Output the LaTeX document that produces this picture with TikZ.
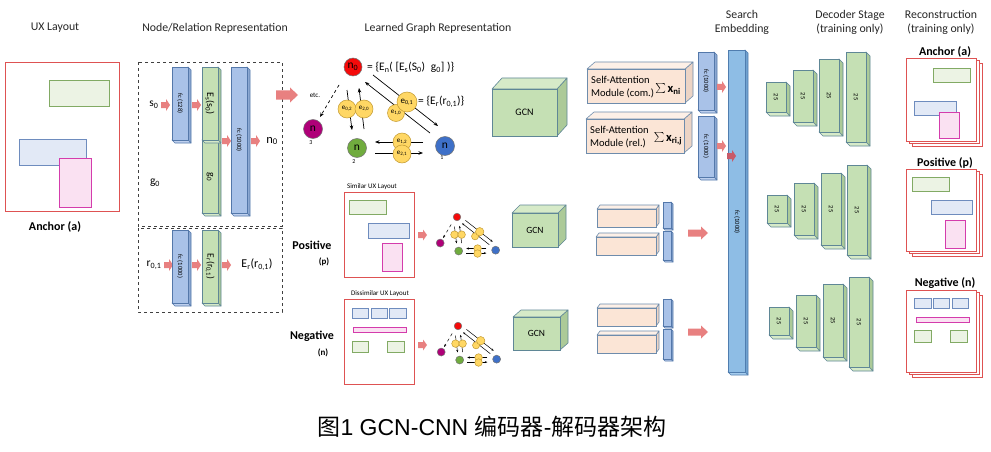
\documentclass[tikz,border=0pt]{standalone}
\usepackage{fontspec}
\setmainfont{Carlito}
\newfontfamily\cjkfont{Noto Sans CJK SC}
\newfontfamily\arialfont{Liberation Sans}
\usetikzlibrary{fit,arrows.meta}

\definecolor{blF}{RGB}{169,194,232}
\definecolor{blT}{RGB}{190,208,238}
\definecolor{blS}{RGB}{140,168,210}
\definecolor{blD}{RGB}{84,120,170}
\definecolor{seF}{RGB}{142,189,229}
\definecolor{seT}{RGB}{165,205,238}
\definecolor{seS}{RGB}{112,162,208}
\definecolor{seD}{RGB}{80,125,175}
\definecolor{grF}{RGB}{197,224,180}
\definecolor{grT}{RGB}{214,234,200}
\definecolor{grS}{RGB}{172,202,152}
\definecolor{grD}{RGB}{95,135,150}
\definecolor{peF}{RGB}{251,229,214}
\definecolor{peT}{RGB}{253,240,231}
\definecolor{peS}{RGB}{236,212,197}
\definecolor{peD}{RGB}{110,140,172}
\definecolor{pkA}{RGB}{232,128,128}
\definecolor{pkB}{RGB}{200,90,105}
\definecolor{lyR}{RGB}{222,82,82}
\definecolor{lgD}{RGB}{130,170,100}
\definecolor{lgF}{RGB}{236,243,228}
\definecolor{lbD}{RGB}{110,140,190}
\definecolor{lbF}{RGB}{226,233,246}
\definecolor{lpD}{RGB}{212,60,172}
\definecolor{lpF}{RGB}{250,225,242}
\definecolor{nRed}{RGB}{245,10,10}
\definecolor{nMag}{RGB}{175,0,120}
\definecolor{nGrn}{RGB}{112,172,62}
\definecolor{nBlu}{RGB}{62,112,200}
\definecolor{eF}{RGB}{255,215,100}
\definecolor{eD}{RGB}{195,155,50}

\newcommand\cuboD[8]{%
  \filldraw[draw=#8D,fill=#8S,line join=round,line width=0.6pt] (#4,#3) -- ({#4+#6},{#3+#7}) -- ({#4+#6},{#5+#7}) -- (#4,#5) -- cycle;
  \filldraw[draw=#8D,fill=#8T,line join=round,line width=0.6pt] (#2,#5) -- ({#2+#6},{#5+#7}) -- ({#4+#6},{#5+#7}) -- (#4,#5) -- cycle;
  \node[fit={(#2,#3)(#4,#5)},inner sep=0pt,draw=#8D,fill=#8F,line width=0.6pt] (#1) {};}
\newcommand\cuboU[8]{%
  \filldraw[draw=#8D,fill=#8S,line join=round,line width=0.6pt] (#4,#3) -- ({#4+#6},{#3+#7}) -- ({#4+#6},{#5+#7}) -- (#4,#5) -- cycle;
  \filldraw[draw=#8D,fill=#8T,line join=round,line width=0.6pt] (#2,#3) -- ({#2+#6},{#3+#7}) -- ({#4+#6},{#3+#7}) -- (#4,#3) -- cycle;
  \node[fit={(#2,#3)(#4,#5)},inner sep=0pt,draw=#8D,fill=#8F,line width=0.6pt] (#1) {};}
\newcommand\deco[5]{%
  \cuboD{#1}{#2}{#3}{#4}{#5}{4}{4}{gr}
  \node[rotlab] (#1-t) at (#1) {25};}
\newcommand\stackbox[4]{%
  \draw[lbox] ({#1+6},{#2+5}) rectangle ({#3+6},{#4+5});
  \draw[lbox] ({#1+3},{#2+2.5}) rectangle ({#3+3},{#4+2.5});
  \draw[lbox] (#1,#2) rectangle (#3,#4);}
% block arrow: [colour] x y length bodywidth headwidth headlength
\newcommand\parr[7][pkA]{%
  \fill[#1] (#2,{#3-#5/2}) -- ({#2+#4-#7},{#3-#5/2}) -- ({#2+#4-#7},{#3-#6/2}) -- ({#2+#4},#3)
    -- ({#2+#4-#7},{#3+#6/2}) -- ({#2+#4-#7},{#3+#5/2}) -- (#2,{#3+#5/2}) -- cycle;}
\newcommand\sumx[1]{{\fontsize{15}{16}\selectfont$\sum$}\,{\fontsize{12.5}{14}\selectfont\textbf{x}\textsubscript{\textbf{#1}}}}

\tikzset{
  dbox/.style={draw=black!75, dashed, line width=0.6pt},
  lbox/.style={draw=lyR, fill=white, line width=0.9pt},
  lg/.style={draw=lgD, fill=lgF, line width=0.6pt},
  lb/.style={draw=lbD, fill=lbF, line width=0.6pt},
  lp/.style={draw=lpD, fill=lpF, line width=0.6pt},
  title/.style={font=\fontsize{11.8}{14}\selectfont, align=center, text=black!85},
  boldl/.style={font=\bfseries\fontsize{12}{14}\selectfont},
  bigbold/.style={font=\bfseries\fontsize{12}{14}\selectfont},
  rotlab/.style={rotate=-90, font=\fontsize{6.5}{7}\selectfont, inner sep=0pt},
  small/.style={font=\fontsize{7}{8}\selectfont, inner sep=0pt},
  lab/.style={font=\fontsize{11.5}{13}\selectfont},
  garrow/.style={line width=0.7pt, -{Stealth[length=4.5pt,width=3.5pt]}},
  gnode/.style={circle, draw=black!55, line width=0.5pt, minimum size=19pt, inner sep=0pt},
  enode/.style={circle, draw=eD, fill=eF, line width=0.5pt, minimum size=18pt, inner sep=0pt},
  graphpic/.pic={
    \coordinate (-a1) at (-14,18); \coordinate (-a2) at (-33,50);
    \coordinate (-b1) at (-6,23);  \coordinate (-b2) at (-1,63);
    \coordinate (-c1) at (11,62);  \coordinate (-c2) at (6,21);
    \coordinate (-d1) at (20,8);   \coordinate (-d2) at (85,59);
    \coordinate (-f1) at (77,66);  \coordinate (-f2) at (12,15);
    \coordinate (-g1) at (70,75);  \coordinate (-g2) at (22,75);
    \coordinate (-h1) at (22,86);  \coordinate (-h2) at (70,86);
    \draw[garrow,dashed] (-a1) -- (-a2);
    \draw[garrow] (-b1) -- (-b2);
    \draw[garrow] (-c1) -- (-c2);
    \draw[garrow] (-d1) -- (-d2);
    \draw[garrow] (-f1) -- (-f2);
    \draw[garrow] (-g1) -- (-g2);
    \draw[garrow] (-h1) -- (-h2);
    \node[gnode, fill=nRed, minimum size=18pt] (-n0) at (0,0) {};
    \node[gnode, fill=nBlu] (-n1) at (92,79) {};
    \node[gnode, fill=nGrn] (-n2) at (4,81) {};
    \node[gnode, fill=nMag] (-n3) at (-40,62) {};
    \node[enode] (-e02) at (-6,42) {};
    \node[enode] (-e20) at (11,42) {};
    \node[enode, minimum size=17pt] (-e10) at (43,46) {};
    \node[enode, minimum size=20pt] (-e01) at (54,35) {};
    \node[enode] (-e12) at (49,75) {};
    \node[enode] (-e21) at (49,87) {};
  }
}

\begin{document}
\begin{tikzpicture}[x=1pt,y=-1pt]
\useasboundingbox (0,0) rectangle (991,452);
\fill[white] (0,0) rectangle (991,452);

% ---------- titles ----------
\node[title] (t1) at (55,28) {UX Layout};
\node[title] (t2) at (215,28) {Node/Relation Representation};
\node[title] (t3) at (438,28) {Learned Graph Representation};
\node[title] (t4) at (742,22) {Search\\Embedding};
\node[title] (t5) at (850,22) {Decoder Stage\\(training only)};
\node[title] (t6) at (941,22) {Reconstruction\\(training only)};

% ---------- anchor layout ----------
\draw[lbox] (5,62) rectangle (119,211);
\draw[lg] (49,80) rectangle (109,106);
\draw[lb] (19,139) rectangle (86,165);
\draw[lp] (59,158) rectangle (91,207);
\node[boldl] (anc) at (55,227) {Anchor (a)};

% ---------- node / relation representation ----------
\draw[dbox] (138,62) rectangle (282,226);
\draw[dbox] (138,228) rectangle (282,312);

\node[lab] (s0) at (154,105) {s\textsubscript{0}};
\node[lab] (g0l) at (155,183) {g\textsubscript{0}};
\parr{161}{105}{9}{6}{12}{4}
\cuboD{fcA}{172}{67}{188}{140}{3}{3}{bl}
\node[rotlab] (fcA-t) at (fcA) {fc (128)};
\parr{192}{105}{9}{6}{12}{4}
\cuboD{gz}{202}{141}{218}{213}{3}{3}{gr}
\node[rotate=-90, font=\fontsize{10}{11}\selectfont, inner sep=0pt] (gz-t) at (gz) {g\textsubscript{0}};
\cuboD{esz}{202}{67}{218}{140}{3}{3}{gr}
\node[rotate=-90, font=\fontsize{10}{11}\selectfont, inner sep=0pt] (esz-t) at (esz) {E\textsubscript{s}(s\textsubscript{0})};
\parr{222}{141}{9}{6}{12}{4}
\cuboD{fcB}{231}{67}{247}{213}{3}{3}{bl}
\node[rotlab] (fcB-t) at (fcB) {fc (1000)};
\parr{251}{141}{9}{6}{12}{4}
\node[lab, font=\fontsize{12.5}{14}\selectfont] (n0l) at (272,141) {n\textsubscript{0}};

\node[lab] (r01) at (154,265) {r\textsubscript{0,1}};
\parr{164}{265}{9}{6}{12}{4}
\cuboD{fcC}{172}{230}{188}{303}{3}{3}{bl}
\node[rotlab] (fcC-t) at (fcC) {fc (1000)};
\parr{192}{265}{9}{6}{12}{4}
\cuboD{erz}{202}{230}{218}{303}{3}{3}{gr}
\node[rotate=-90, font=\fontsize{9.5}{11}\selectfont, inner sep=0pt] (erz-t) at (erz) {E\textsubscript{r}(r\textsubscript{0,1})};
\parr{222}{265}{9}{6}{12}{4}
\node[lab, font=\fontsize{12}{14}\selectfont] (erl) at (257,265) {E\textsubscript{r}(r\textsubscript{0,1})};

\parr{276}{95}{22}{9}{15}{8}

% ---------- learned graph ----------
\pic (G) at (353,67) {graphpic};
\node[lab, inner sep=0pt] (G-n0t) at (G-n0) {n\textsubscript{0}};
\node[lab, inner sep=0pt] (G-n1t) at (G-n1) {n};
\node[lab, inner sep=0pt] (G-n2t) at (G-n2) {n};
\node[lab, inner sep=0pt] (G-n3t) at (G-n3) {n};
\node[small, font=\fontsize{6}{7}\selectfont] (G-n1s) at (442,158) {1};
\node[small, font=\fontsize{6}{7}\selectfont] (G-n2s) at (354,162) {2};
\node[small, font=\fontsize{6}{7}\selectfont] (G-n3s) at (311,143) {3};
\node[small] (G-e02t) at (G-e02) {e\textsubscript{0,2}};
\node[small] (G-e20t) at (G-e20) {e\textsubscript{2,0}};
\node[small] (G-e10t) at (G-e10) {e\textsubscript{1,0}};
\node[small, font=\fontsize{9}{10}\selectfont] (G-e01t) at (G-e01) {e\textsubscript{0,1}};
\node[small] (G-e12t) at (G-e12) {e\textsubscript{1,2}};
\node[small] (G-e21t) at (G-e21) {e\textsubscript{2,1}};
\node[small] (etc) at (315,95) {etc.};
\node[lab, anchor=west, inner sep=0pt] (eqn) at (367,67) {= \{E\textsubscript{n}( [E\textsubscript{s}(S\textsubscript{0})\enspace g\textsubscript{0}] )\}};
\node[lab, anchor=west, inner sep=0pt] (eqr) at (418,102) {= \{E\textsubscript{r}(r\textsubscript{0,1})\}};

% ---------- top GCN & attention ----------
\cuboU{gcnA}{492}{89}{557}{136}{10}{-11}{gr}
\node[font=\fontsize{10}{12}\selectfont] (gcnA-t) at (gcnA) {GCN};
\cuboU{saA}{587}{69}{685}{103}{8}{-7}{pe}
\node[anchor=west, align=left, font=\fontsize{10.5}{12.5}\selectfont, inner sep=0pt] (saA-t) at (591,87) {Self-Attention\\Module (com.)};
\node[inner sep=0pt] (saA-s) at (668,89) {\sumx{ni}};
\cuboU{saB}{586}{119}{684}{153}{8}{-7}{pe}
\node[anchor=west, align=left, font=\fontsize{10.5}{12.5}\selectfont, inner sep=0pt] (saB-t) at (590,137) {Self-Attention\\Module (rel.)};
\node[inner sep=0pt] (saB-s) at (668,139) {\sumx{ri,j}};
\cuboD{fcD}{698}{52}{714}{110}{3}{3}{bl}
\node[rotlab] (fcD-t) at (fcD) {fc (1000)};
\cuboD{fcE}{698}{116}{714}{177}{3}{3}{bl}
\node[rotlab] (fcE-t) at (fcE) {fc (1000)};

% ---------- search embedding ----------
\cuboD{se}{728}{50}{745}{372}{3}{3}{se}
\node[rotlab] (se-t) at (737,222) {fc (1000)};
\parr{717}{87}{9}{6}{12}{4}
\parr{717}{146}{9}{6}{12}{4}
\parr[pkB]{727}{156}{9}{6}{12}{4}

% ---------- positive / negative layouts ----------
\node[small] (simt) at (372,187) {Similar UX Layout};
\draw[lbox] (344,192) rectangle (414,277);
\draw[lg] (349,200) rectangle (386,214);
\draw[lb] (368,223) rectangle (409,238);
\draw[lp] (382,243) rectangle (402,271);
\node[bigbold] (pos) at (312,245) {Positive};
\node[font=\bfseries\fontsize{9}{10}\selectfont] (posp) at (324,262) {(p)};
\parr{418}{235}{9}{6}{11}{4}
\pic[scale=0.42, transform shape, garrow/.append style={line width=0.5pt, -{Stealth[length=2.5pt,width=2pt]}}] (P) at (457,217) {graphpic};

\node[small] (dist) at (380,294) {Dissimilar UX Layout};
\draw[lbox] (344,299) rectangle (414,384);
\draw[lb] (352,308) rectangle (368,318);
\draw[lb] (371,308) rectangle (387,318);
\draw[lb] (389,308) rectangle (406,318);
\draw[lp] (353,327) rectangle (406,332);
\draw[lg] (352,341) rectangle (368,352);
\draw[lg] (387,341) rectangle (404,352);
\node[bigbold] (neg) at (312,336) {Negative};
\node[font=\bfseries\fontsize{9}{10}\selectfont] (negn) at (323,353) {(n)};
\parr{418}{345}{9}{6}{11}{4}
\pic[scale=0.42, transform shape, garrow/.append style={line width=0.5pt, -{Stealth[length=2.5pt,width=2pt]}}] (N) at (458,326) {graphpic};

% ---------- middle GCN blocks ----------
\cuboU{gcnP}{512}{213}{558}{247}{8}{-8}{gr}
\node[font=\fontsize{9.5}{11}\selectfont] (gcnP-t) at (gcnP) {GCN};
\cuboU{gcnN}{513}{317}{560}{350}{8}{-7}{gr}
\node[font=\fontsize{9.5}{11}\selectfont] (gcnN-t) at (gcnN) {GCN};
\cuboU{pP1}{597}{209}{656}{227}{3}{-4}{pe}
\cuboU{pP2}{596}{237}{656}{255}{3}{-4}{pe}
\cuboU{pN1}{597}{308}{656}{326}{3}{-4}{pe}
\cuboU{pN2}{597}{335}{656}{353}{3}{-4}{pe}
\cuboD{bP1}{663}{202}{671}{228}{2}{2}{bl}
\cuboD{bP2}{663}{231}{671}{260}{2}{2}{bl}
\cuboD{bN1}{663}{299}{671}{326}{2}{2}{bl}
\cuboD{bN2}{663}{329}{671}{359}{2}{2}{bl}
\parr{688}{233}{20}{7}{13}{7}
\parr{688}{332}{20}{7}{13}{7}

% ---------- decoder ----------
\deco{d11}{766}{82}{786}{112}
\deco{d12}{793}{70}{813}{122}
\deco{d13}{819}{59}{839}{132}
\deco{d14}{846}{52}{866}{142}
\deco{d21}{767}{195}{787}{223}
\deco{d22}{794}{183}{814}{235}
\deco{d23}{821}{173}{841}{245}
\deco{d24}{847}{165}{867}{255}
\deco{d31}{769}{307}{789}{335}
\deco{d32}{796}{295}{816}{347}
\deco{d33}{823}{284}{843}{357}
\deco{d34}{849}{277}{869}{367}

% ---------- reconstruction ----------
\node[boldl] (ra) at (945,52) {Anchor (a)};
\stackbox{906}{58}{976}{141}
\draw[lg] (933,68) rectangle (970,82);
\draw[lb] (914,101) rectangle (956,115);
\draw[lp] (939,112) rectangle (959,138);

\node[boldl] (rp) at (945,163) {Positive (p)};
\stackbox{906}{169}{976}{251}
\draw[lg] (912,177) rectangle (949,191);
\draw[lb] (931,200) rectangle (972,214);
\draw[lp] (945,220) rectangle (965,248);

\node[boldl] (rn) at (945,283) {Negative (n)};
\stackbox{906}{290}{976}{372}
\draw[lb] (914,298) rectangle (931,308);
\draw[lb] (933,298) rectangle (949,308);
\draw[lb] (952,298) rectangle (968,308);
\draw[lp] (916,317) rectangle (969,322);
\draw[lg] (914,330) rectangle (931,342);
\draw[lg] (950,330) rectangle (967,342);

% ---------- caption ----------
\node (cap) at (492,427) {\fontsize{23}{26}\selectfont\cjkfont 图\arialfont 1 GCN-CNN \cjkfont 编码器\arialfont -\cjkfont 解码器架构};
\end{tikzpicture}
\end{document}
